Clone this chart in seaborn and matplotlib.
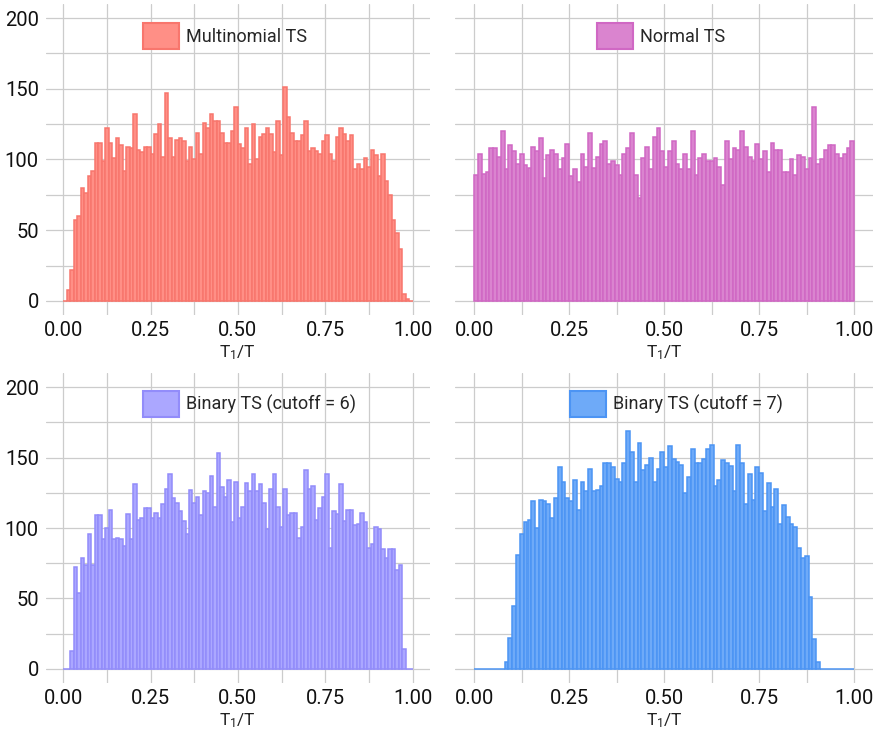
import numpy as np
import pandas as pd
import matplotlib
matplotlib.use("Agg")
import matplotlib.pyplot as plt
import seaborn as sns
from matplotlib.ticker import MultipleLocator, FixedLocator
from matplotlib.patches import Patch

# ---------------- data (counts per 0.01-wide bin of T1/T) ----------------
n_bins = 100
x_ticks = [0.0, 0.25, 0.5, 0.75, 1.0]
x_tick_labels = ["0.00", "0.25", "0.50", "0.75", "1.00"]
y_ticks = [0, 50, 100, 150, 200]

panel_names = ["Multinomial TS", "Normal TS",
               "Binary TS (cutoff = 6)", "Binary TS (cutoff = 7)"]

multinomial_counts = [
    0, 8, 22, 57, 60, 80, 76, 88, 92, 112,
    112, 99, 122, 112, 101, 115, 110, 92, 109, 108,
    132, 107, 105, 109, 109, 104, 118, 125, 102, 147,
    115, 102, 114, 115, 113, 99, 109, 100, 119, 104,
    126, 122, 132, 127, 127, 119, 112, 112, 120, 137,
    111, 108, 122, 97, 125, 100, 116, 118, 122, 118,
    105, 127, 103, 151, 130, 119, 113, 113, 117, 127,
    106, 108, 106, 104, 113, 117, 104, 99, 116, 122,
    118, 113, 117, 93, 97, 93, 101, 95, 107, 103,
    88, 104, 85, 75, 57, 48, 37, 5, 1, 0]

normal_counts = [
    89, 104, 90, 91, 108, 108, 102, 120, 93, 110,
    106, 97, 104, 96, 94, 109, 106, 115, 87, 103,
    107, 104, 93, 101, 111, 88, 93, 84, 104, 95,
    119, 94, 102, 111, 113, 97, 99, 96, 89, 104,
    108, 119, 89, 73, 101, 109, 93, 116, 122, 106,
    95, 106, 113, 97, 93, 104, 93, 120, 89, 101,
    104, 99, 99, 101, 95, 82, 113, 100, 108, 107,
    120, 109, 102, 99, 111, 100, 106, 91, 112, 107,
    107, 91, 91, 100, 89, 103, 102, 93, 101, 137,
    97, 100, 107, 110, 110, 104, 101, 104, 108, 113]

binary6_counts = [
    0, 0, 13, 72, 54, 79, 74, 96, 74, 109,
    109, 92, 100, 113, 92, 93, 92, 87, 110, 92,
    131, 106, 107, 114, 114, 107, 111, 107, 117, 128,
    138, 121, 118, 112, 105, 96, 127, 118, 122, 109,
    126, 125, 137, 115, 153, 129, 122, 134, 104, 133,
    107, 115, 132, 126, 138, 126, 131, 118, 99, 128,
    138, 115, 101, 128, 109, 111, 111, 93, 101, 141,
    128, 130, 106, 114, 122, 138, 86, 112, 110, 131,
    105, 113, 113, 102, 103, 111, 104, 86, 89, 101,
    99, 85, 79, 85, 85, 70, 74, 14, 0, 0]

binary7_counts = [
    0, 0, 0, 0, 0, 0, 0, 0, 5, 22,
    45, 81, 96, 104, 106, 119, 100, 120, 119, 117,
    107, 121, 143, 133, 121, 119, 134, 113, 133, 126,
    142, 126, 127, 130, 146, 146, 143, 135, 133, 146,
    169, 154, 133, 160, 141, 145, 150, 133, 142, 154,
    143, 158, 149, 147, 145, 125, 136, 156, 146, 146,
    149, 156, 159, 130, 134, 148, 146, 144, 126, 159,
    146, 117, 138, 120, 143, 139, 112, 132, 115, 128,
    103, 116, 108, 103, 101, 86, 79, 80, 51, 21,
    5, 0, 0, 0, 0, 0, 0, 0, 0, 0]

all_counts = [multinomial_counts, normal_counts, binary6_counts, binary7_counts]

edge_colors = ["#F8766D", "#D068C4", "#928CFA", "#4C94F4"]
fill_colors = ["#FF8F86", "#DA84CF", "#ABA7FF", "#6EAAF8"]

# ---------------- style ----------------
sns.set_theme(style="whitegrid")
plt.rcParams["font.family"] = ["Roboto", "DejaVu Sans"]
plt.rcParams["mathtext.default"] = "regular"

W, H = 878, 729
fig = plt.figure(figsize=(W / 100, H / 100), dpi=100)


def px_axes(x0, y0, x1, y1):
    return fig.add_axes([x0 / W, 1 - y1 / H, (x1 - x0) / W, (y1 - y0) / H])


boxes = [(45.8, 4, 430.0, 315),
         (455.3, 4, 873.3, 315),
         (45.8, 373, 430.0, 683),
         (455.3, 373, 873.3, 683)]
legend_anchor = [(143, 36), (597, 36), (143, 404), (570, 404)]

centers = (np.arange(n_bins) + 0.5) / n_bins

for i, (box, name, counts) in enumerate(zip(boxes, panel_names, all_counts)):
    ax = px_axes(*box)
    df = pd.DataFrame({"t": centers, "n": counts})
    sns.histplot(data=df, x="t", weights="n", bins=n_bins, binrange=(0, 1),
                 ax=ax, facecolor=fill_colors[i], edgecolor=edge_colors[i],
                 linewidth=1.1, alpha=1, zorder=2)
    ax.set_xlim(-0.05, 1.05)
    ax.set_ylim(-10, 210)
    ax.xaxis.set_major_locator(FixedLocator(x_ticks))
    ax.set_xticklabels(x_tick_labels)
    ax.xaxis.set_minor_locator(MultipleLocator(0.125))
    ax.yaxis.set_major_locator(FixedLocator(y_ticks))
    ax.yaxis.set_minor_locator(MultipleLocator(25))
    ax.grid(True, which="both", color="#CCCCCC", linewidth=0.9, zorder=0)
    ax.set_axisbelow(True)
    for s in ax.spines.values():
        s.set_visible(False)
    ax.tick_params(axis="both", which="both", length=0, labelsize=14.5,
                   colors="#111111")
    ax.tick_params(axis="x", pad=4.5)
    ax.tick_params(axis="y", pad=5)
    if i % 2 == 1:
        ax.set_yticklabels([])
    ax.set_ylabel("")
    ax.set_xlabel("T$_1$/T", fontsize=12.5, labelpad=2.5, color="#222222")

    handle = Patch(facecolor=fill_colors[i], edgecolor=edge_colors[i],
                   linewidth=1.5, label=name)
    ax_x0, ax_y0, ax_x1, ax_y1 = box
    lx, ly = legend_anchor[i]
    ax.legend(handles=[handle], loc="center left",
              bbox_to_anchor=((lx - ax_x0) / (ax_x1 - ax_x0),
                              1 - (ly - ax_y0) / (ax_y1 - ax_y0)),
              frameon=False, fontsize=13, handlelength=2.0, handleheight=1.9,
              handletextpad=0.4, borderpad=0, borderaxespad=0)

fig.savefig("out.png", dpi=100, facecolor="white")
